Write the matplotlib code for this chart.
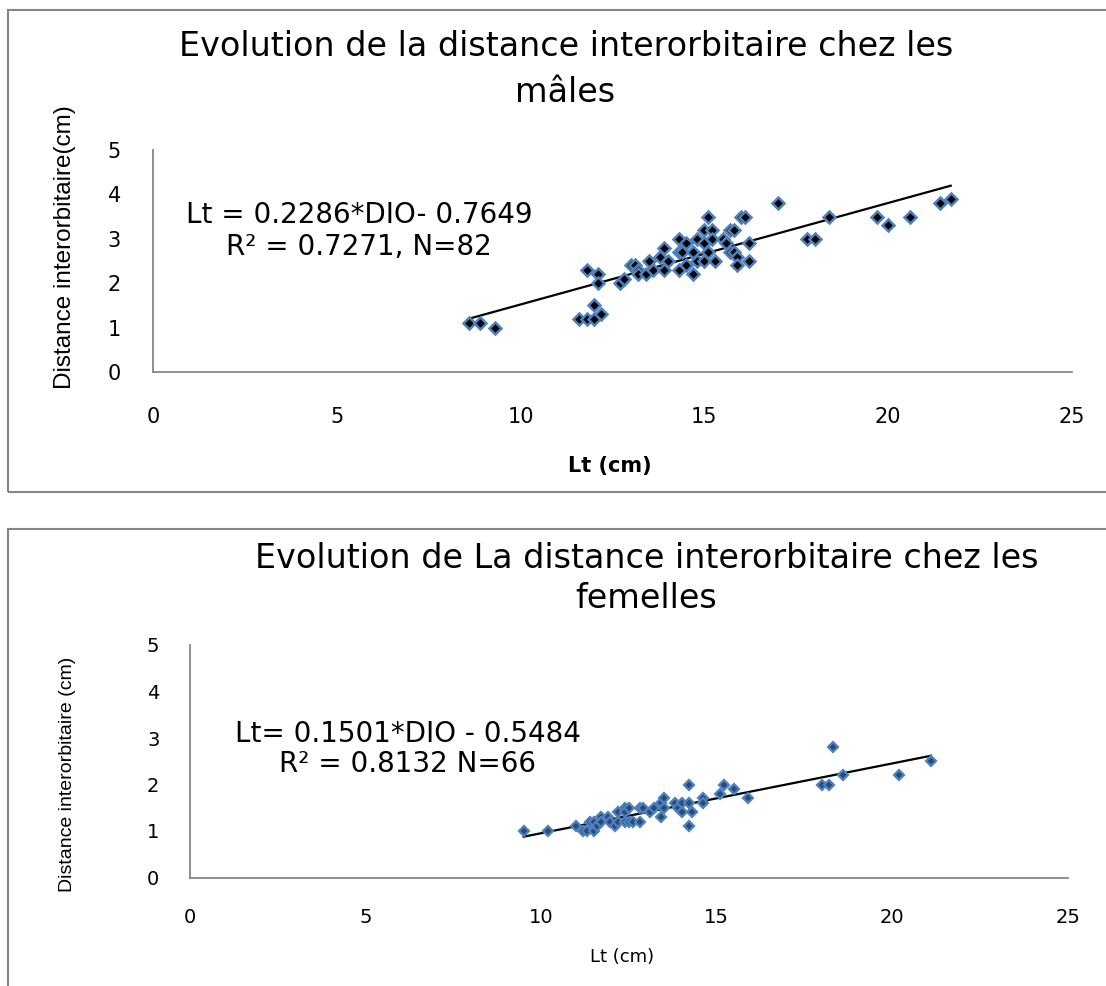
import numpy as np
import matplotlib
matplotlib.use('Agg')
import matplotlib.pyplot as plt
from matplotlib.patches import Rectangle

# Males: Lt (cm) vs interorbital distance (cm)
male_lt = [8.6, 8.9, 9.3, 11.6, 11.8, 12.0, 12.2, 12.0, 11.8, 12.1, 12.1, 12.7, 12.8,
           13.0, 13.1, 13.2, 13.2, 13.4, 13.5, 13.6, 13.8, 13.9, 13.9, 14.0, 14.3, 14.3,
           14.3, 14.5, 14.5, 14.4, 14.7, 14.7, 14.8, 14.8, 15.0, 15.0, 15.0, 15.1, 15.2,
           15.2, 15.1, 15.3, 15.5, 15.6, 15.7, 15.8, 15.7, 15.8, 15.9, 15.9, 16.0, 16.1,
           16.2, 16.2, 17.0, 17.8, 18.0, 18.4, 19.7, 20.0, 20.6, 21.4, 21.7]
male_dio = [1.1, 1.1, 1.0, 1.2, 1.2, 1.2, 1.3, 1.5, 2.3, 2.2, 2.0, 2.0, 2.1,
            2.4, 2.4, 2.3, 2.2, 2.2, 2.5, 2.3, 2.6, 2.8, 2.3, 2.5, 3.0, 2.7,
            2.3, 2.9, 2.4, 2.7, 2.7, 2.2, 3.0, 2.5, 3.2, 2.9, 2.5, 3.5, 3.2,
            3.0, 2.7, 2.5, 3.0, 2.9, 3.2, 3.2, 2.7, 2.7, 2.6, 2.4, 3.5, 3.5,
            2.9, 2.5, 3.8, 3.0, 3.0, 3.5, 3.5, 3.3, 3.5, 3.8, 3.9]
male_slope, male_icpt = 0.2286, -0.7649

# Females
fem_lt = [9.5, 10.2, 11.0, 11.2, 11.3, 11.5, 11.4, 11.5, 11.6, 11.7, 11.7, 11.9, 11.95,
          12.1, 12.2, 12.2, 12.4, 12.4, 12.5, 12.4, 12.5, 12.6, 12.8, 12.8, 12.9, 13.1,
          13.2, 13.4, 13.4, 13.5, 13.5, 13.8, 13.9, 14.0, 14.0, 14.2, 14.2, 14.2, 14.3,
          14.6, 14.6, 15.1, 15.2, 15.5, 15.9, 18.0, 18.2, 18.3, 18.6, 20.2, 21.1]
fem_dio = [1.0, 1.0, 1.1, 1.0, 1.0, 1.0, 1.2, 1.2, 1.1, 1.3, 1.2, 1.3, 1.2,
           1.1, 1.4, 1.2, 1.5, 1.4, 1.5, 1.2, 1.2, 1.2, 1.2, 1.5, 1.5, 1.4,
           1.5, 1.3, 1.6, 1.7, 1.5, 1.6, 1.5, 1.4, 1.6, 2.0, 1.1, 1.6, 1.4,
           1.7, 1.6, 1.8, 2.0, 1.9, 1.7, 2.0, 2.0, 2.8, 2.2, 2.2, 2.5]
fem_slope, fem_icpt = 0.1501, -0.5484

W, H = 1106, 986
AXIS_GREY = '#868686'
BLUE = '#4F81BD'
NARROW = ['Liberation Sans', 'DejaVu Sans']

fig = plt.figure(figsize=(W / 100, H / 100), dpi=100)


def fx(px):
    return px / W


def fy(py):
    return 1 - py / H


# outer chart frames
fig.patches.append(Rectangle((fx(8), fy(492)), 1.2, fy(10) - fy(492), transform=fig.transFigure,
                             fill=False, edgecolor=AXIS_GREY, lw=1.5))
fig.patches.append(Rectangle((fx(8), -0.2), 1.2, fy(529) + 0.2, transform=fig.transFigure,
                             fill=False, edgecolor=AXIS_GREY, lw=1.5))


def style_axes(ax, xpad, ypad, tick_fs):
    ax.set_xlim(0, 25)
    ax.set_ylim(0, 5)
    ax.margins(0)
    for s in ('top', 'right'):
        ax.spines[s].set_visible(False)
    for s in ('left', 'bottom'):
        ax.spines[s].set_color(AXIS_GREY)
        ax.spines[s].set_linewidth(1.3)
    ax.set_xticks([0, 5, 10, 15, 20, 25])
    ax.set_yticks([0, 1, 2, 3, 4, 5])
    ax.tick_params(axis='x', length=0, pad=xpad, labelsize=tick_fs)
    ax.tick_params(axis='y', length=0, pad=ypad, labelsize=tick_fs)
    ax.patch.set_visible(False)


# ---- top: males
ax1 = fig.add_axes([fx(153), fy(372), fx(1072) - fx(153), fy(150) - fy(372)])
style_axes(ax1, 25, 23, 15)
xs = np.array([min(male_lt), max(male_lt)])
ax1.plot(xs, male_slope * xs + male_icpt, color='black', lw=1.6, zorder=2)
ax1.plot(male_lt, male_dio, linestyle='none', marker='D', markersize=6.5,
         markerfacecolor='black', markeredgecolor=BLUE, markeredgewidth=1.8, zorder=3)
ax1.text(5.6, 3.18, 'Lt = 0.2286*DIO- 0.7649\nR² = 0.7271, N=82', ha='center', va='center',
         multialignment='center', fontsize=20, linespacing=1.2)

fig.text(fx(566), fy(47), 'Evolution de la distance interorbitaire chez les',
         ha='center', va='center', fontsize=24)
fig.text(fx(565), fy(92), 'mâles', ha='center', va='center', fontsize=24)
fig.text(fx(610), fy(466), 'Lt (cm)', ha='center', va='center', fontsize=15, fontweight='bold')
fig.text(fx(65), fy(247), 'Distance interorbitaire(cm)', ha='center', va='center',
         rotation=90, fontsize=17.5, family=NARROW)

# ---- bottom: females
ax2 = fig.add_axes([fx(190), fy(877.5), fx(1068) - fx(190), fy(645) - fy(877.5)])
style_axes(ax2, 22, 22, 14)
xs = np.array([min(fem_lt), max(fem_lt)])
ax2.plot(xs, fem_slope * xs + fem_icpt, color='black', lw=1.6, zorder=2)
ax2.plot(fem_lt, fem_dio, linestyle='none', marker='D', markersize=5,
         markerfacecolor='#2A4A7A', markeredgecolor=BLUE, markeredgewidth=1.6, zorder=3)
ax2.text(6.2, 2.77, 'Lt= 0.1501*DIO - 0.5484\nR² = 0.8132 N=66', ha='center', va='center',
         multialignment='center', fontsize=20, linespacing=1.1)

fig.text(fx(647), fy(559), 'Evolution de La distance interorbitaire chez les',
         ha='center', va='center', fontsize=24)
fig.text(fx(646), fy(598), 'femelles', ha='center', va='center', fontsize=24)
fig.text(fx(622), fy(957), 'Lt (cm)', ha='center', va='center', fontsize=13)
fig.text(fx(68), fy(774), 'Distance interorbitaire (cm)', ha='center', va='center',
         rotation=90, fontsize=14, family=NARROW)

fig.savefig('out.png', dpi=100)
